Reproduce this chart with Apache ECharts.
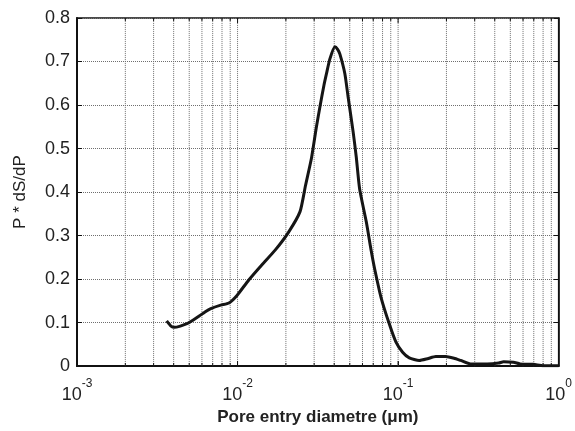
<!DOCTYPE html>
<html>
<head>
<meta charset="utf-8">
<script src="https://cdn.jsdelivr.net/npm/echarts@6/dist/echarts.min.js"></script>
<style>
  html, body { margin: 0; padding: 0; background: #fff; }
  #chart { width: 575px; height: 431px; }
</style>
</head>
<body>
<div id="chart"></div>
<script>
// Pore entry diameter (µm) and the P * dS/dP distribution measured at each diameter
var diameters = [
  0.00362, 0.00385, 0.00404, 0.0044, 0.00488, 0.0053, 0.00577, 0.0063, 0.00681, 0.00785,
  0.00884, 0.00995, 0.01175, 0.0142, 0.0172, 0.0208, 0.0245, 0.0265, 0.0289, 0.0310,
  0.0326, 0.0345, 0.0358, 0.0376, 0.0404, 0.0420, 0.0434, 0.0466, 0.0488, 0.0524,
  0.0549, 0.0576, 0.0634, 0.0680, 0.0713, 0.0784, 0.0883, 0.0970, 0.1067, 0.1174,
  0.1355, 0.1525, 0.1716, 0.1977, 0.223, 0.245, 0.283, 0.358, 0.423, 0.454,
  0.523, 0.575, 0.696, 0.803, 1.0
];
var psdValues = [
  0.104, 0.092, 0.089, 0.092, 0.098, 0.106, 0.115, 0.125, 0.132, 0.140,
  0.145, 0.163, 0.198, 0.233, 0.267, 0.308, 0.355, 0.415, 0.479, 0.550,
  0.596, 0.645, 0.672, 0.706, 0.734, 0.728, 0.717, 0.672, 0.619, 0.540,
  0.480, 0.407, 0.331, 0.265, 0.225, 0.157, 0.096, 0.055, 0.032, 0.019,
  0.013, 0.017, 0.022, 0.022, 0.018, 0.013, 0.005, 0.005, 0.007, 0.010,
  0.009, 0.005, 0.004, 0.001, 0.001
];

// Decade exponents shown under the log axis
var xExponents = ['-3', '-2', '-1', '0'];
var yTicks = [0, 0.1, 0.2, 0.3, 0.4, 0.5, 0.6, 0.7, 0.8];

// Positions of the log grid lines (2..9 within each decade, plus the inner decades)
var logGridValues = [];
[0.001, 0.01, 0.1].forEach(function (dec, di) {
  for (var m = 1; m <= 9; m++) {
    if (m === 1 && di === 0) continue;
    logGridValues.push([+(dec * m).toPrecision(3), m === 1 ? 1 : 0]);
  }
});

var FONT = '"Liberation Sans", Arial, sans-serif';
var GRID_COLOR = '#6f6f6f';
var chart = echarts.init(document.getElementById('chart'), null, { renderer: 'canvas' });

chart.setOption({
  animation: false,
  grid: {
    left: 77, right: 13, top: 18, bottom: 62,
    show: true, borderColor: '#111', borderWidth: 1.5, backgroundColor: 'transparent'
  },
  xAxis: {
    type: 'log',
    logBase: 10,
    min: 0.001,
    max: 1,
    interval: 1,
    name: 'Pore entry diametre (\u03bcm)',
    nameLocation: 'middle',
    nameGap: 41,
    nameTextStyle: { fontFamily: FONT, fontSize: 17, fontWeight: 'bold', color: '#222' },
    axisLine: { show: true, onZero: false, lineStyle: { color: '#111', width: 2 } },
    axisTick: { show: true, inside: true, length: 5, lineStyle: { color: '#111' } },
    splitLine: { show: false },
    minorTick: { show: false },
    axisLabel: {
      margin: 12,
      showMinLabel: true,
      showMaxLabel: true,
      formatter: function (v) {
        var e = Math.round(Math.log10(v));
        return '{b|10}{s|' + xExponents[e + 3] + '}';
      },
      rich: {
        b: { fontFamily: FONT, fontSize: 18, color: '#222', verticalAlign: 'bottom' },
        s: { fontFamily: FONT, fontSize: 12, color: '#222', verticalAlign: 'top', padding: [0, 0, 14, 0] }
      }
    }
  },
  yAxis: [
    {
      type: 'value',
      min: 0,
      max: 0.8,
      interval: 0.1,
      name: 'P * dS/dP',
      nameLocation: 'middle',
      nameGap: 48,
      nameTextStyle: { fontFamily: FONT, fontSize: 17, color: '#222' },
      axisLine: { show: true, lineStyle: { color: '#111', width: 2 } },
      axisTick: { show: true, inside: true, length: 5, lineStyle: { color: '#111' } },
      splitLine: { show: true, lineStyle: { color: GRID_COLOR, width: 1, type: [1, 1] } },
      axisLabel: {
        margin: 7,
        fontFamily: FONT, fontSize: 18, color: '#222',
        formatter: function (v) {
          var i = yTicks.indexOf(+v.toFixed(1));
          return i === 0 ? '0' : String(yTicks[i]);
        }
      }
    },
    {
      type: 'value',
      min: 0,
      max: 0.8,
      interval: 0.1,
      position: 'right',
      axisLine: { show: true, lineStyle: { color: '#111', width: 1.5 } },
      axisTick: { show: true, inside: true, length: 5, lineStyle: { color: '#111' } },
      axisLabel: { show: false },
      splitLine: { show: false }
    }
  ],
  series: [
    {
      // dotted log grid with short inward ticks at top and bottom
      type: 'custom',
      silent: true,
      z: 1,
      data: logGridValues,
      encode: { x: 0 },
      renderItem: function (params, api) {
        var x = api.value(0);
        var major = api.value(1) === 1;
        var p0 = api.coord([x, 0]);
        var p1 = api.coord([x, 0.8]);
        var t = major ? 5 : 3;
        return {
          type: 'group',
          children: [
            { type: 'line', shape: { x1: p0[0], y1: p0[1], x2: p1[0], y2: p1[1] },
              style: { stroke: GRID_COLOR, lineWidth: 1, lineDash: [1, 1] } },
            { type: 'line', shape: { x1: p0[0], y1: p0[1], x2: p0[0], y2: p0[1] - t },
              style: { stroke: '#111', lineWidth: 1 } },
            { type: 'line', shape: { x1: p1[0], y1: p1[1], x2: p1[0], y2: p1[1] + t },
              style: { stroke: '#111', lineWidth: 1 } }
          ]
        };
      }
    },
    {
      type: 'line',
      z: 5,
      data: diameters.map(function (d, i) { return [d, psdValues[i]]; }),
      showSymbol: false,
      symbol: 'none',
      smooth: 0.2,
      lineStyle: { color: '#151515', width: 3 }
    }
  ]
});
</script>
</body>
</html>
